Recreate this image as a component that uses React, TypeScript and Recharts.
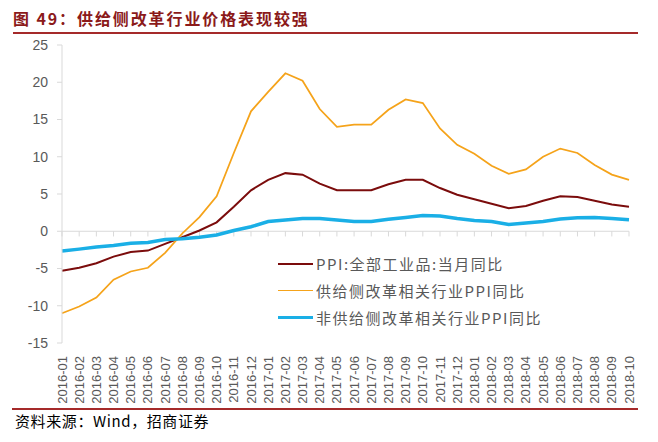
import React from 'react';
import { LineChart, Line, XAxis, YAxis, Legend, ReferenceLine } from 'recharts';

const months = [
  '2016-01', '2016-02', '2016-03', '2016-04', '2016-05', '2016-06', '2016-07', '2016-08', '2016-09', '2016-10', '2016-11', '2016-12',
  '2017-01', '2017-02', '2017-03', '2017-04', '2017-05', '2017-06', '2017-07', '2017-08', '2017-09', '2017-10', '2017-11', '2017-12',
  '2018-01', '2018-02', '2018-03', '2018-04', '2018-05', '2018-06', '2018-07', '2018-08', '2018-09', '2018-10',
];

// PPI:全部工业品:当月同比
const ppiAll = [
  -5.3, -4.9, -4.3, -3.4, -2.8, -2.6, -1.7, -0.8, 0.1, 1.2, 3.3, 5.5,
  6.9, 7.8, 7.6, 6.4, 5.5, 5.5, 5.5, 6.3, 6.9, 6.9, 5.8, 4.9,
  4.3, 3.7, 3.1, 3.4, 4.1, 4.7, 4.6, 4.1, 3.6, 3.3,
];

// 供给侧改革相关行业PPI同比
const supplySide = [
  -11.0, -10.1, -8.9, -6.5, -5.4, -4.9, -2.9, -0.3, 1.9, 4.7, 10.5, 16.1,
  18.7, 21.2, 20.2, 16.4, 14.0, 14.3, 14.3, 16.3, 17.7, 17.2, 13.8, 11.6,
  10.4, 8.8, 7.7, 8.3, 10.0, 11.1, 10.5, 8.9, 7.6, 6.9,
];

// 非供给侧改革相关行业PPI同比
const nonSupply = [
  -2.65, -2.4, -2.1, -1.9, -1.6, -1.5, -1.1, -1.0, -0.8, -0.5, 0.1, 0.6,
  1.3, 1.5, 1.7, 1.7, 1.5, 1.3, 1.3, 1.6, 1.85, 2.1, 2.05, 1.7,
  1.45, 1.3, 0.9, 1.1, 1.3, 1.65, 1.8, 1.85, 1.7, 1.55,
];

const yTicks = [-15, -10, -5, 0, 5, 10, 15, 20, 25];

const data = months.map((m, i) => ({
  month: m,
  ppi: ppiAll[i],
  supply: supplySide[i],
  nonSupply: nonSupply[i],
}));

const tickFont = '"Liberation Sans", Arial, sans-serif';
const cjkFont = '"Noto Sans CJK SC", "Noto Sans", sans-serif';
const grid = '#d9d9d9';

const XTick = (props: any) => {
  const { x, y, payload } = props;
  return (
    <text
      x={x}
      y={y}
      transform={`rotate(-90, ${x}, ${y})`}
      textAnchor="end"
      dominantBaseline="central"
      fill="#595959"
      fontSize={13}
      fontFamily={tickFont}
    >
      {payload.value}
    </text>
  );
};

const LegendBox = (props: any) => {
  const { payload } = props;
  return (
    <div style={{ fontFamily: cjkFont }}>
      {(payload || []).map((p: any) => (
        <div key={p.value} style={{ display: 'flex', alignItems: 'center', height: 27 }}>
          <div style={{ width: 35, height: p.payload.strokeWidth, background: p.color, marginRight: 3 }} />
          <span style={{ fontSize: 15, color: '#595959', letterSpacing: 1.5, whiteSpace: 'nowrap' }}>{p.value}</span>
        </div>
      ))}
    </div>
  );
};

export default function App() {
  return (
    <div style={{ position: 'absolute', left: 0, top: 0, width: 658, height: 442, background: '#fff', overflow: 'hidden' }}>
      <div
        style={{
          position: 'absolute', left: 13, top: 6, fontFamily: cjkFont, fontWeight: 700, fontSize: 16,
          letterSpacing: 1.9, color: '#8b1a1a', whiteSpace: 'nowrap',
        }}
      >
        图 49：供给侧改革行业价格表现较强
      </div>
      <div style={{ position: 'absolute', left: 13, top: 32, width: 625, height: 1.5, background: '#a52a2a' }} />
      <div style={{ position: 'absolute', left: 0, top: 0 }}>
        <LineChart width={658} height={442} data={data} margin={{ top: 45, right: 29, bottom: 39, left: 0 }}>
          <XAxis
            dataKey="month"
            interval={0}
            axisLine={false}
            tickLine={false}
            tickSize={0}
            height={60}
            tick={<XTick />}
            tickMargin={13}
          />
          <YAxis
            domain={[-15, 25]}
            ticks={yTicks}
            width={62}
            axisLine={{ stroke: grid }}
            tickLine={{ stroke: grid }}
            tickSize={5}
            tickMargin={9}
            tick={{ fill: '#595959', fontSize: 14, fontFamily: tickFont }}
          />
          <ReferenceLine y={0} stroke={grid} strokeWidth={1} />
          {months.map((m) => (
            <ReferenceLine
              key={m}
              segment={[{ x: m, y: 0 }, { x: m, y: -0.7 }]}
              stroke={grid}
              strokeWidth={1}
            />
          ))}
          <Legend
            layout="vertical"
            verticalAlign="middle"
            align="center"
            wrapperStyle={{ left: 278, top: 250, width: 320 }}
            content={<LegendBox />}
          />
          <Line dataKey="ppi" name="PPI:全部工业品:当月同比" stroke="#7b0c0c" strokeWidth={2} dot={false} isAnimationActive={false} />
          <Line dataKey="supply" name="供给侧改革相关行业PPI同比" stroke="#f5a31a" strokeWidth={1.75} dot={false} isAnimationActive={false} />
          <Line dataKey="nonSupply" name="非供给侧改革相关行业PPI同比" stroke="#1aafe6" strokeWidth={3.5} dot={false} isAnimationActive={false} />
        </LineChart>
      </div>
      <div style={{ position: 'absolute', left: 12, top: 408, width: 626, height: 1.5, background: '#a52a2a' }} />
      <div style={{ position: 'absolute', left: 15, top: 410, fontFamily: cjkFont, fontSize: 15, letterSpacing: 0.6, color: '#000', whiteSpace: 'nowrap' }}>
        资料来源：Wind，招商证券
      </div>
    </div>
  );
}
